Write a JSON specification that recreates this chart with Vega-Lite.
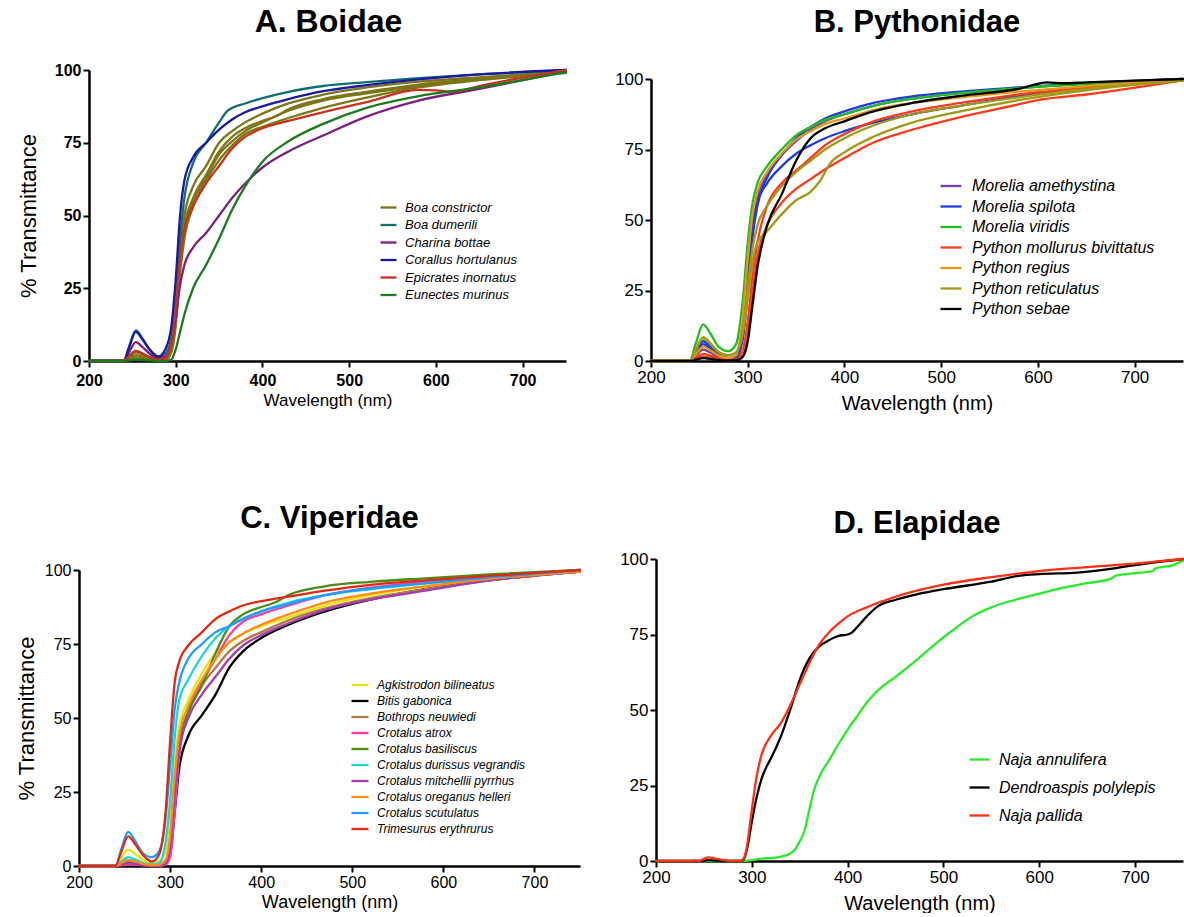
{
  "$schema": "https://vega.github.io/schema/vega-lite/v6.json",
  "padding": {"left": 15, "top": 6, "right": 0, "bottom": 0},
  "background": "white",
  "config": {
    "font": "Liberation Sans",
    "view": {"stroke": null},
    "axis": {"domainColor": "#000", "domainWidth": 2.5, "tickColor": "#000", "tickWidth": 2, "tickSize": 6, "labelColor": "#000", "titleColor": "#000", "grid": false, "titleFontWeight": "normal", "labelFlush": false, "labelOverlap": false, "labelFont": "Liberation Sans", "titleFont": "Liberation Sans"},
    "title": {"fontSize": 31, "fontWeight": "bold", "font": "Liberation Sans", "anchor": "middle", "color": "#000"},
    "legend": {"title": null, "orient": "none", "symbolType": "stroke", "labelFontStyle": "italic", "labelColor": "#000", "padding": 0, "labelLimit": 400, "labelFont": "Liberation Sans"},
    "line": {"interpolate": "monotone", "strokeWidth": 2.3, "strokeCap": "round", "clip": true}
  },
  "datasets": {
    "names": [
      {"i": "a1", "s": "Boa constrictor"}, {"i": "a2", "s": "Boa constrictor"}, {"i": "a3", "s": "Boa constrictor"}, {"i": "a4", "s": "Boa constrictor"},
      {"i": "a5", "s": "Boa dumerili"}, {"i": "a6", "s": "Charina bottae"}, {"i": "a7", "s": "Corallus hortulanus"}, {"i": "a8", "s": "Epicrates inornatus"}, {"i": "a9", "s": "Eunectes murinus"},
      {"i": "b1", "s": "Morelia amethystina"}, {"i": "b2", "s": "Morelia spilota"}, {"i": "b3", "s": "Morelia spilota"}, {"i": "b4", "s": "Morelia viridis"},
      {"i": "b5", "s": "Python mollurus bivittatus"}, {"i": "b6", "s": "Python mollurus bivittatus"}, {"i": "b7", "s": "Python regius"},
      {"i": "b8", "s": "Python reticulatus"}, {"i": "b9", "s": "Python reticulatus"}, {"i": "b10", "s": "Python sebae"},
      {"i": "c1", "s": "Agkistrodon bilineatus"}, {"i": "c2", "s": "Bitis gabonica"}, {"i": "c3", "s": "Bothrops neuwiedi"}, {"i": "c4", "s": "Crotalus atrox"},
      {"i": "c5", "s": "Crotalus basiliscus"}, {"i": "c6", "s": "Crotalus durissus vegrandis"}, {"i": "c7", "s": "Crotalus mitchellii pyrrhus"},
      {"i": "c8", "s": "Crotalus oreganus helleri"}, {"i": "c9", "s": "Crotalus scutulatus"}, {"i": "c10", "s": "Trimesurus erythrurus"},
      {"i": "d1", "s": "Naja annulifera"}, {"i": "d2", "s": "Dendroaspis polylepis"}, {"i": "d3", "s": "Naja pallida"}
    ],
    "A": [
      {"i":"a1","w":200,"t":0},{"i":"a1","w":240,"t":0},{"i":"a1","w":246,"t":1.35},{"i":"a1","w":254,"t":3},{"i":"a1","w":262,"t":2.16},{"i":"a1","w":270,"t":1.14},{"i":"a1","w":280,"t":0.4},{"i":"a1","w":288,"t":1},{"i":"a1","w":295,"t":5},{"i":"a1","w":300,"t":20},{"i":"a1","w":305,"t":38},{"i":"a1","w":310,"t":50},{"i":"a1","w":320,"t":60},{"i":"a1","w":335,"t":67},{"i":"a1","w":350,"t":75},{"i":"a1","w":365,"t":79},{"i":"a1","w":380,"t":82},{"i":"a1","w":400,"t":85},{"i":"a1","w":430,"t":88.5},{"i":"a1","w":470,"t":91.5},{"i":"a1","w":520,"t":94},{"i":"a1","w":580,"t":96},{"i":"a1","w":650,"t":97.5},{"i":"a1","w":750,"t":99.5},
      {"i":"a2","w":200,"t":0},{"i":"a2","w":240,"t":0},{"i":"a2","w":246,"t":0.9},{"i":"a2","w":254,"t":2},{"i":"a2","w":262,"t":1.44},{"i":"a2","w":270,"t":0.76},{"i":"a2","w":280,"t":0.3},{"i":"a2","w":288,"t":0.5},{"i":"a2","w":295,"t":4},{"i":"a2","w":300,"t":16},{"i":"a2","w":305,"t":33},{"i":"a2","w":310,"t":46},{"i":"a2","w":320,"t":56},{"i":"a2","w":335,"t":64},{"i":"a2","w":350,"t":72},{"i":"a2","w":365,"t":77},{"i":"a2","w":380,"t":80},{"i":"a2","w":400,"t":82.5},{"i":"a2","w":415,"t":84},{"i":"a2","w":430,"t":86.5},{"i":"a2","w":470,"t":90},{"i":"a2","w":520,"t":92.5},{"i":"a2","w":580,"t":95},{"i":"a2","w":650,"t":97},{"i":"a2","w":750,"t":99},
      {"i":"a3","w":200,"t":0},{"i":"a3","w":240,"t":0},{"i":"a3","w":246,"t":0.54},{"i":"a3","w":254,"t":1.2},{"i":"a3","w":262,"t":0.86},{"i":"a3","w":270,"t":0.46},{"i":"a3","w":280,"t":0.2},{"i":"a3","w":288,"t":0.3},{"i":"a3","w":295,"t":3},{"i":"a3","w":300,"t":12},{"i":"a3","w":305,"t":30},{"i":"a3","w":310,"t":42},{"i":"a3","w":320,"t":53},{"i":"a3","w":335,"t":62},{"i":"a3","w":350,"t":69},{"i":"a3","w":365,"t":74},{"i":"a3","w":380,"t":78},{"i":"a3","w":400,"t":80.5},{"i":"a3","w":430,"t":83.5},{"i":"a3","w":470,"t":87},{"i":"a3","w":520,"t":90.5},{"i":"a3","w":580,"t":94},{"i":"a3","w":650,"t":96.5},{"i":"a3","w":750,"t":99},
      {"i":"a4","w":200,"t":0},{"i":"a4","w":240,"t":0},{"i":"a4","w":246,"t":1.58},{"i":"a4","w":254,"t":3.5},{"i":"a4","w":262,"t":2.52},{"i":"a4","w":270,"t":1.33},{"i":"a4","w":280,"t":0.5},{"i":"a4","w":288,"t":0.8},{"i":"a4","w":295,"t":4},{"i":"a4","w":300,"t":14},{"i":"a4","w":305,"t":32},{"i":"a4","w":310,"t":44},{"i":"a4","w":320,"t":55},{"i":"a4","w":335,"t":63},{"i":"a4","w":350,"t":71},{"i":"a4","w":365,"t":75.5},{"i":"a4","w":380,"t":79},{"i":"a4","w":400,"t":82},{"i":"a4","w":430,"t":86},{"i":"a4","w":470,"t":89.5},{"i":"a4","w":520,"t":92},{"i":"a4","w":580,"t":94.5},{"i":"a4","w":650,"t":97},{"i":"a4","w":750,"t":99.2},
      {"i":"a5","w":200,"t":0},{"i":"a5","w":240,"t":0},{"i":"a5","w":246,"t":4.7},{"i":"a5","w":254,"t":10.5},{"i":"a5","w":262,"t":7.6},{"i":"a5","w":270,"t":4},{"i":"a5","w":280,"t":1.5},{"i":"a5","w":288,"t":2.5},{"i":"a5","w":295,"t":8},{"i":"a5","w":300,"t":22},{"i":"a5","w":305,"t":42},{"i":"a5","w":310,"t":56},{"i":"a5","w":320,"t":68},{"i":"a5","w":335,"t":75},{"i":"a5","w":350,"t":82},{"i":"a5","w":360,"t":86},{"i":"a5","w":380,"t":88.5},{"i":"a5","w":400,"t":90.3},{"i":"a5","w":430,"t":92.5},{"i":"a5","w":470,"t":94.5},{"i":"a5","w":520,"t":95.8},{"i":"a5","w":580,"t":97.2},{"i":"a5","w":650,"t":98.5},{"i":"a5","w":750,"t":100},
      {"i":"a6","w":200,"t":0},{"i":"a6","w":240,"t":0},{"i":"a6","w":246,"t":2.9},{"i":"a6","w":254,"t":6.5},{"i":"a6","w":262,"t":4.7},{"i":"a6","w":270,"t":2.5},{"i":"a6","w":280,"t":1},{"i":"a6","w":288,"t":1.5},{"i":"a6","w":295,"t":6},{"i":"a6","w":300,"t":15},{"i":"a6","w":305,"t":26},{"i":"a6","w":310,"t":33},{"i":"a6","w":320,"t":39},{"i":"a6","w":335,"t":44},{"i":"a6","w":350,"t":50},{"i":"a6","w":365,"t":56},{"i":"a6","w":380,"t":61},{"i":"a6","w":400,"t":66.5},{"i":"a6","w":430,"t":72},{"i":"a6","w":470,"t":77.5},{"i":"a6","w":520,"t":84},{"i":"a6","w":580,"t":89.5},{"i":"a6","w":650,"t":93.5},{"i":"a6","w":750,"t":99.5},
      {"i":"a7","w":200,"t":0},{"i":"a7","w":240,"t":0},{"i":"a7","w":246,"t":4.5},{"i":"a7","w":254,"t":10},{"i":"a7","w":262,"t":7.2},{"i":"a7","w":270,"t":3.8},{"i":"a7","w":280,"t":1.5},{"i":"a7","w":288,"t":4},{"i":"a7","w":295,"t":12},{"i":"a7","w":300,"t":28},{"i":"a7","w":305,"t":50},{"i":"a7","w":310,"t":62},{"i":"a7","w":320,"t":70},{"i":"a7","w":335,"t":75},{"i":"a7","w":350,"t":79.5},{"i":"a7","w":365,"t":83},{"i":"a7","w":380,"t":85.5},{"i":"a7","w":400,"t":87.5},{"i":"a7","w":430,"t":90},{"i":"a7","w":470,"t":92.7},{"i":"a7","w":520,"t":94.8},{"i":"a7","w":580,"t":96.8},{"i":"a7","w":650,"t":98.5},{"i":"a7","w":750,"t":100},
      {"i":"a8","w":200,"t":0},{"i":"a8","w":240,"t":0},{"i":"a8","w":246,"t":1.6},{"i":"a8","w":254,"t":3.5},{"i":"a8","w":262,"t":2.5},{"i":"a8","w":270,"t":1.3},{"i":"a8","w":280,"t":0.5},{"i":"a8","w":288,"t":1},{"i":"a8","w":295,"t":6},{"i":"a8","w":300,"t":18},{"i":"a8","w":305,"t":35},{"i":"a8","w":310,"t":45},{"i":"a8","w":320,"t":53},{"i":"a8","w":335,"t":61},{"i":"a8","w":350,"t":67},{"i":"a8","w":365,"t":73},{"i":"a8","w":380,"t":77},{"i":"a8","w":400,"t":80},{"i":"a8","w":430,"t":82.5},{"i":"a8","w":470,"t":85.5},{"i":"a8","w":520,"t":89},{"i":"a8","w":580,"t":93.2},{"i":"a8","w":600,"t":93},{"i":"a8","w":620,"t":92.5},{"i":"a8","w":650,"t":94.5},{"i":"a8","w":750,"t":100},
      {"i":"a9","w":200,"t":0},{"i":"a9","w":240,"t":0},{"i":"a9","w":246,"t":0.2},{"i":"a9","w":254,"t":0.5},{"i":"a9","w":262,"t":0.36},{"i":"a9","w":270,"t":0.19},{"i":"a9","w":280,"t":0},{"i":"a9","w":288,"t":0},{"i":"a9","w":295,"t":0.5},{"i":"a9","w":300,"t":4},{"i":"a9","w":305,"t":10},{"i":"a9","w":310,"t":16},{"i":"a9","w":320,"t":25},{"i":"a9","w":335,"t":33},{"i":"a9","w":350,"t":42},{"i":"a9","w":365,"t":52},{"i":"a9","w":380,"t":60},{"i":"a9","w":400,"t":68.5},{"i":"a9","w":430,"t":75.5},{"i":"a9","w":470,"t":81.5},{"i":"a9","w":520,"t":87},{"i":"a9","w":580,"t":91},{"i":"a9","w":650,"t":94},{"i":"a9","w":750,"t":99.3}
    ],
    "B": [
      {"i":"b1","w":200,"t":0},{"i":"b1","w":240,"t":0},{"i":"b1","w":246,"t":1.8},{"i":"b1","w":254,"t":4},{"i":"b1","w":262,"t":2.9},{"i":"b1","w":270,"t":1.5},{"i":"b1","w":280,"t":0.5},{"i":"b1","w":288,"t":1},{"i":"b1","w":295,"t":10},{"i":"b1","w":300,"t":30},{"i":"b1","w":305,"t":48},{"i":"b1","w":310,"t":58},{"i":"b1","w":320,"t":66},{"i":"b1","w":335,"t":73},{"i":"b1","w":350,"t":78},{"i":"b1","w":365,"t":82},{"i":"b1","w":380,"t":85},{"i":"b1","w":400,"t":87.5},{"i":"b1","w":430,"t":90.5},{"i":"b1","w":470,"t":93},{"i":"b1","w":520,"t":95},{"i":"b1","w":580,"t":96.8},{"i":"b1","w":650,"t":98.3},{"i":"b1","w":750,"t":100},
      {"i":"b2","w":200,"t":0},{"i":"b2","w":240,"t":0},{"i":"b2","w":246,"t":3.2},{"i":"b2","w":254,"t":7},{"i":"b2","w":262,"t":5},{"i":"b2","w":270,"t":2.7},{"i":"b2","w":280,"t":1},{"i":"b2","w":288,"t":1.5},{"i":"b2","w":295,"t":10},{"i":"b2","w":300,"t":28},{"i":"b2","w":305,"t":46},{"i":"b2","w":310,"t":56},{"i":"b2","w":320,"t":63},{"i":"b2","w":335,"t":69},{"i":"b2","w":350,"t":73.5},{"i":"b2","w":365,"t":76.5},{"i":"b2","w":380,"t":79},{"i":"b2","w":400,"t":81.5},{"i":"b2","w":430,"t":84.5},{"i":"b2","w":470,"t":87.5},{"i":"b2","w":520,"t":90.5},{"i":"b2","w":580,"t":94},{"i":"b2","w":650,"t":96.5},{"i":"b2","w":750,"t":99.5},
      {"i":"b3","w":200,"t":0},{"i":"b3","w":240,"t":0},{"i":"b3","w":246,"t":2.7},{"i":"b3","w":254,"t":6},{"i":"b3","w":262,"t":4.3},{"i":"b3","w":270,"t":2.3},{"i":"b3","w":280,"t":1},{"i":"b3","w":288,"t":1.5},{"i":"b3","w":295,"t":8},{"i":"b3","w":300,"t":24},{"i":"b3","w":305,"t":44},{"i":"b3","w":310,"t":55},{"i":"b3","w":320,"t":65},{"i":"b3","w":335,"t":73},{"i":"b3","w":350,"t":79},{"i":"b3","w":365,"t":83},{"i":"b3","w":380,"t":86},{"i":"b3","w":400,"t":88.5},{"i":"b3","w":430,"t":91.5},{"i":"b3","w":470,"t":93.8},{"i":"b3","w":520,"t":95.5},{"i":"b3","w":580,"t":97},{"i":"b3","w":650,"t":98.5},{"i":"b3","w":750,"t":100},
      {"i":"b4","w":200,"t":0},{"i":"b4","w":240,"t":0},{"i":"b4","w":246,"t":5.9},{"i":"b4","w":254,"t":13},{"i":"b4","w":262,"t":9.4},{"i":"b4","w":270,"t":5},{"i":"b4","w":280,"t":3.5},{"i":"b4","w":288,"t":6},{"i":"b4","w":295,"t":22},{"i":"b4","w":300,"t":42},{"i":"b4","w":305,"t":56},{"i":"b4","w":310,"t":63},{"i":"b4","w":320,"t":69},{"i":"b4","w":335,"t":75},{"i":"b4","w":350,"t":80},{"i":"b4","w":365,"t":83},{"i":"b4","w":380,"t":85.5},{"i":"b4","w":400,"t":87.5},{"i":"b4","w":430,"t":90.5},{"i":"b4","w":470,"t":93},{"i":"b4","w":520,"t":95},{"i":"b4","w":580,"t":96.8},{"i":"b4","w":650,"t":98.3},{"i":"b4","w":750,"t":100},
      {"i":"b5","w":200,"t":0},{"i":"b5","w":240,"t":0},{"i":"b5","w":246,"t":1.1},{"i":"b5","w":254,"t":2.5},{"i":"b5","w":262,"t":1.8},{"i":"b5","w":270,"t":0.95},{"i":"b5","w":280,"t":0.3},{"i":"b5","w":288,"t":0.3},{"i":"b5","w":295,"t":2},{"i":"b5","w":300,"t":9},{"i":"b5","w":305,"t":24},{"i":"b5","w":310,"t":37},{"i":"b5","w":320,"t":48},{"i":"b5","w":335,"t":56},{"i":"b5","w":350,"t":61},{"i":"b5","w":365,"t":64.5},{"i":"b5","w":380,"t":68},{"i":"b5","w":400,"t":72},{"i":"b5","w":430,"t":77.5},{"i":"b5","w":470,"t":82},{"i":"b5","w":520,"t":86.5},{"i":"b5","w":580,"t":91},{"i":"b5","w":600,"t":92.5},{"i":"b5","w":650,"t":94.5},{"i":"b5","w":750,"t":99.5},
      {"i":"b6","w":200,"t":0},{"i":"b6","w":240,"t":0},{"i":"b6","w":246,"t":0.7},{"i":"b6","w":254,"t":1.5},{"i":"b6","w":262,"t":1.1},{"i":"b6","w":270,"t":0.6},{"i":"b6","w":280,"t":0.3},{"i":"b6","w":288,"t":0.5},{"i":"b6","w":295,"t":4},{"i":"b6","w":300,"t":14},{"i":"b6","w":305,"t":30},{"i":"b6","w":310,"t":42},{"i":"b6","w":320,"t":55},{"i":"b6","w":335,"t":63},{"i":"b6","w":350,"t":67.5},{"i":"b6","w":365,"t":72},{"i":"b6","w":380,"t":76.5},{"i":"b6","w":400,"t":80.5},{"i":"b6","w":430,"t":85},{"i":"b6","w":470,"t":88.5},{"i":"b6","w":520,"t":91.5},{"i":"b6","w":580,"t":94.5},{"i":"b6","w":650,"t":97},{"i":"b6","w":750,"t":99.8},
      {"i":"b7","w":200,"t":0},{"i":"b7","w":240,"t":0},{"i":"b7","w":246,"t":2.25},{"i":"b7","w":254,"t":5},{"i":"b7","w":262,"t":3.6},{"i":"b7","w":270,"t":1.9},{"i":"b7","w":280,"t":1},{"i":"b7","w":288,"t":2},{"i":"b7","w":295,"t":16},{"i":"b7","w":300,"t":36},{"i":"b7","w":305,"t":52},{"i":"b7","w":310,"t":60},{"i":"b7","w":320,"t":67},{"i":"b7","w":335,"t":73.5},{"i":"b7","w":350,"t":78.5},{"i":"b7","w":365,"t":81.5},{"i":"b7","w":380,"t":84},{"i":"b7","w":400,"t":86},{"i":"b7","w":430,"t":89},{"i":"b7","w":470,"t":91.5},{"i":"b7","w":520,"t":93.5},{"i":"b7","w":580,"t":95.5},{"i":"b7","w":650,"t":97.5},{"i":"b7","w":750,"t":99.5},
      {"i":"b8","w":200,"t":0},{"i":"b8","w":240,"t":0},{"i":"b8","w":246,"t":3.8},{"i":"b8","w":254,"t":8.5},{"i":"b8","w":262,"t":6.1},{"i":"b8","w":270,"t":3.2},{"i":"b8","w":280,"t":2},{"i":"b8","w":288,"t":3},{"i":"b8","w":295,"t":10},{"i":"b8","w":300,"t":22},{"i":"b8","w":305,"t":35},{"i":"b8","w":310,"t":42},{"i":"b8","w":320,"t":46},{"i":"b8","w":335,"t":52},{"i":"b8","w":350,"t":57},{"i":"b8","w":365,"t":60},{"i":"b8","w":375,"t":64},{"i":"b8","w":385,"t":70},{"i":"b8","w":400,"t":74},{"i":"b8","w":430,"t":79.5},{"i":"b8","w":470,"t":84.5},{"i":"b8","w":520,"t":88.5},{"i":"b8","w":580,"t":92.5},{"i":"b8","w":650,"t":96},{"i":"b8","w":750,"t":99.5},
      {"i":"b9","w":200,"t":0},{"i":"b9","w":240,"t":0},{"i":"b9","w":246,"t":3.6},{"i":"b9","w":254,"t":8},{"i":"b9","w":262,"t":5.8},{"i":"b9","w":270,"t":3},{"i":"b9","w":280,"t":2},{"i":"b9","w":288,"t":3},{"i":"b9","w":295,"t":12},{"i":"b9","w":300,"t":26},{"i":"b9","w":305,"t":40},{"i":"b9","w":310,"t":48},{"i":"b9","w":320,"t":55},{"i":"b9","w":335,"t":62},{"i":"b9","w":350,"t":67},{"i":"b9","w":365,"t":71},{"i":"b9","w":380,"t":75},{"i":"b9","w":400,"t":79},{"i":"b9","w":430,"t":83.5},{"i":"b9","w":470,"t":87.5},{"i":"b9","w":520,"t":90.5},{"i":"b9","w":580,"t":93.5},{"i":"b9","w":650,"t":96.5},{"i":"b9","w":750,"t":99.5},
      {"i":"b10","w":200,"t":0},{"i":"b10","w":240,"t":0},{"i":"b10","w":246,"t":0.45},{"i":"b10","w":254,"t":1},{"i":"b10","w":262,"t":0.7},{"i":"b10","w":270,"t":0.4},{"i":"b10","w":280,"t":0.2},{"i":"b10","w":288,"t":0.2},{"i":"b10","w":295,"t":1.5},{"i":"b10","w":300,"t":7},{"i":"b10","w":305,"t":20},{"i":"b10","w":310,"t":33},{"i":"b10","w":320,"t":48},{"i":"b10","w":335,"t":59},{"i":"b10","w":350,"t":71},{"i":"b10","w":365,"t":79},{"i":"b10","w":380,"t":82.5},{"i":"b10","w":400,"t":85},{"i":"b10","w":430,"t":88.5},{"i":"b10","w":470,"t":91.5},{"i":"b10","w":520,"t":94},{"i":"b10","w":580,"t":96.5},{"i":"b10","w":610,"t":98.8},{"i":"b10","w":625,"t":98.5},{"i":"b10","w":650,"t":98.8},{"i":"b10","w":750,"t":100}
    ],
    "C": [
      {"i":"c1","w":200,"t":0},{"i":"c1","w":240,"t":0},{"i":"c1","w":246,"t":2.5},{"i":"c1","w":254,"t":5.5},{"i":"c1","w":262,"t":4},{"i":"c1","w":270,"t":2.1},{"i":"c1","w":280,"t":1},{"i":"c1","w":288,"t":1.5},{"i":"c1","w":295,"t":5},{"i":"c1","w":300,"t":15},{"i":"c1","w":305,"t":35},{"i":"c1","w":310,"t":47},{"i":"c1","w":320,"t":56},{"i":"c1","w":335,"t":65},{"i":"c1","w":350,"t":72},{"i":"c1","w":365,"t":75.5},{"i":"c1","w":380,"t":78.5},{"i":"c1","w":400,"t":81},{"i":"c1","w":430,"t":84},{"i":"c1","w":470,"t":88},{"i":"c1","w":520,"t":91.5},{"i":"c1","w":580,"t":94.5},{"i":"c1","w":650,"t":97},{"i":"c1","w":750,"t":99.5},
      {"i":"c2","w":200,"t":0},{"i":"c2","w":240,"t":0},{"i":"c2","w":246,"t":0.14},{"i":"c2","w":254,"t":0.3},{"i":"c2","w":262,"t":0.2},{"i":"c2","w":270,"t":0.1},{"i":"c2","w":280,"t":0},{"i":"c2","w":288,"t":0},{"i":"c2","w":295,"t":0.5},{"i":"c2","w":300,"t":4},{"i":"c2","w":305,"t":18},{"i":"c2","w":310,"t":33},{"i":"c2","w":320,"t":44},{"i":"c2","w":335,"t":51},{"i":"c2","w":350,"t":58},{"i":"c2","w":365,"t":67},{"i":"c2","w":380,"t":72.5},{"i":"c2","w":400,"t":77},{"i":"c2","w":430,"t":81.5},{"i":"c2","w":470,"t":86},{"i":"c2","w":520,"t":90},{"i":"c2","w":580,"t":93.5},{"i":"c2","w":650,"t":96.5},{"i":"c2","w":750,"t":99.5},
      {"i":"c3","w":200,"t":0},{"i":"c3","w":240,"t":0},{"i":"c3","w":246,"t":0.9},{"i":"c3","w":254,"t":2},{"i":"c3","w":262,"t":1.44},{"i":"c3","w":270,"t":0.76},{"i":"c3","w":280,"t":0.3},{"i":"c3","w":288,"t":0.5},{"i":"c3","w":295,"t":2},{"i":"c3","w":300,"t":9},{"i":"c3","w":305,"t":28},{"i":"c3","w":310,"t":42},{"i":"c3","w":320,"t":52},{"i":"c3","w":335,"t":61},{"i":"c3","w":350,"t":67},{"i":"c3","w":365,"t":72.5},{"i":"c3","w":380,"t":76},{"i":"c3","w":400,"t":79},{"i":"c3","w":430,"t":83},{"i":"c3","w":470,"t":87},{"i":"c3","w":520,"t":90.5},{"i":"c3","w":580,"t":93.5},{"i":"c3","w":650,"t":96.5},{"i":"c3","w":750,"t":99.5},
      {"i":"c4","w":200,"t":0},{"i":"c4","w":240,"t":0},{"i":"c4","w":246,"t":0.2},{"i":"c4","w":254,"t":0.5},{"i":"c4","w":262,"t":0.36},{"i":"c4","w":270,"t":0.2},{"i":"c4","w":280,"t":0},{"i":"c4","w":288,"t":0},{"i":"c4","w":295,"t":0.5},{"i":"c4","w":300,"t":3},{"i":"c4","w":305,"t":18},{"i":"c4","w":310,"t":37},{"i":"c4","w":320,"t":52},{"i":"c4","w":335,"t":62},{"i":"c4","w":350,"t":70},{"i":"c4","w":365,"t":78},{"i":"c4","w":380,"t":82.5},{"i":"c4","w":400,"t":85},{"i":"c4","w":430,"t":88},{"i":"c4","w":470,"t":91.5},{"i":"c4","w":520,"t":94},{"i":"c4","w":580,"t":96},{"i":"c4","w":650,"t":97.5},{"i":"c4","w":750,"t":100},
      {"i":"c5","w":200,"t":0},{"i":"c5","w":240,"t":0},{"i":"c5","w":246,"t":0.7},{"i":"c5","w":254,"t":1.5},{"i":"c5","w":262,"t":1.1},{"i":"c5","w":270,"t":0.6},{"i":"c5","w":280,"t":0.2},{"i":"c5","w":288,"t":0.3},{"i":"c5","w":295,"t":1.5},{"i":"c5","w":300,"t":7},{"i":"c5","w":305,"t":28},{"i":"c5","w":310,"t":42},{"i":"c5","w":320,"t":52},{"i":"c5","w":335,"t":61},{"i":"c5","w":350,"t":72},{"i":"c5","w":365,"t":81},{"i":"c5","w":380,"t":85},{"i":"c5","w":400,"t":87.5},{"i":"c5","w":415,"t":89},{"i":"c5","w":430,"t":91.5},{"i":"c5","w":470,"t":94.5},{"i":"c5","w":520,"t":96},{"i":"c5","w":580,"t":97.2},{"i":"c5","w":650,"t":98.5},{"i":"c5","w":750,"t":100},
      {"i":"c6","w":200,"t":0},{"i":"c6","w":240,"t":0},{"i":"c6","w":246,"t":1.35},{"i":"c6","w":254,"t":3},{"i":"c6","w":262,"t":2.2},{"i":"c6","w":270,"t":1.1},{"i":"c6","w":280,"t":0.5},{"i":"c6","w":288,"t":1},{"i":"c6","w":295,"t":8},{"i":"c6","w":300,"t":22},{"i":"c6","w":305,"t":43},{"i":"c6","w":310,"t":56},{"i":"c6","w":320,"t":63},{"i":"c6","w":335,"t":71},{"i":"c6","w":350,"t":77},{"i":"c6","w":365,"t":81},{"i":"c6","w":380,"t":83.5},{"i":"c6","w":400,"t":86},{"i":"c6","w":430,"t":89},{"i":"c6","w":470,"t":91.5},{"i":"c6","w":520,"t":93.5},{"i":"c6","w":580,"t":95.5},{"i":"c6","w":650,"t":97.5},{"i":"c6","w":750,"t":99.5},
      {"i":"c7","w":200,"t":0},{"i":"c7","w":240,"t":0},{"i":"c7","w":246,"t":0.45},{"i":"c7","w":254,"t":1},{"i":"c7","w":262,"t":0.7},{"i":"c7","w":270,"t":0.4},{"i":"c7","w":280,"t":0.2},{"i":"c7","w":288,"t":0.2},{"i":"c7","w":295,"t":1},{"i":"c7","w":300,"t":6},{"i":"c7","w":305,"t":24},{"i":"c7","w":310,"t":39},{"i":"c7","w":320,"t":50},{"i":"c7","w":335,"t":58},{"i":"c7","w":350,"t":64},{"i":"c7","w":365,"t":70},{"i":"c7","w":380,"t":74.5},{"i":"c7","w":400,"t":78},{"i":"c7","w":430,"t":82},{"i":"c7","w":470,"t":86.5},{"i":"c7","w":520,"t":90},{"i":"c7","w":580,"t":93},{"i":"c7","w":650,"t":96.5},{"i":"c7","w":750,"t":99.5},
      {"i":"c8","w":200,"t":0},{"i":"c8","w":240,"t":0},{"i":"c8","w":246,"t":0.9},{"i":"c8","w":254,"t":2},{"i":"c8","w":262,"t":1.44},{"i":"c8","w":270,"t":0.76},{"i":"c8","w":280,"t":0.3},{"i":"c8","w":288,"t":0.5},{"i":"c8","w":295,"t":2},{"i":"c8","w":300,"t":10},{"i":"c8","w":305,"t":30},{"i":"c8","w":310,"t":44},{"i":"c8","w":320,"t":54},{"i":"c8","w":335,"t":63},{"i":"c8","w":350,"t":70},{"i":"c8","w":365,"t":75.5},{"i":"c8","w":380,"t":78.5},{"i":"c8","w":400,"t":81.5},{"i":"c8","w":430,"t":85},{"i":"c8","w":470,"t":89},{"i":"c8","w":520,"t":92},{"i":"c8","w":580,"t":94.5},{"i":"c8","w":650,"t":97},{"i":"c8","w":750,"t":99.5},
      {"i":"c9","w":200,"t":0},{"i":"c9","w":240,"t":0},{"i":"c9","w":246,"t":5.2},{"i":"c9","w":254,"t":11.5},{"i":"c9","w":262,"t":8.3},{"i":"c9","w":270,"t":4.4},{"i":"c9","w":280,"t":3},{"i":"c9","w":288,"t":5},{"i":"c9","w":295,"t":16},{"i":"c9","w":300,"t":34},{"i":"c9","w":305,"t":53},{"i":"c9","w":310,"t":62},{"i":"c9","w":320,"t":70},{"i":"c9","w":335,"t":75},{"i":"c9","w":350,"t":79},{"i":"c9","w":365,"t":81},{"i":"c9","w":380,"t":83.5},{"i":"c9","w":400,"t":86},{"i":"c9","w":430,"t":88.5},{"i":"c9","w":470,"t":91.5},{"i":"c9","w":520,"t":93.8},{"i":"c9","w":580,"t":95.5},{"i":"c9","w":650,"t":97.5},{"i":"c9","w":750,"t":100},
      {"i":"c10","w":200,"t":0},{"i":"c10","w":240,"t":0},{"i":"c10","w":246,"t":4.5},{"i":"c10","w":254,"t":10},{"i":"c10","w":262,"t":7.2},{"i":"c10","w":270,"t":3.8},{"i":"c10","w":280,"t":1.5},{"i":"c10","w":288,"t":4},{"i":"c10","w":295,"t":18},{"i":"c10","w":300,"t":42},{"i":"c10","w":305,"t":62},{"i":"c10","w":310,"t":69},{"i":"c10","w":320,"t":74.5},{"i":"c10","w":335,"t":79},{"i":"c10","w":350,"t":83.5},{"i":"c10","w":365,"t":86},{"i":"c10","w":380,"t":88},{"i":"c10","w":400,"t":89.5},{"i":"c10","w":430,"t":91},{"i":"c10","w":470,"t":93},{"i":"c10","w":520,"t":95},{"i":"c10","w":580,"t":96.5},{"i":"c10","w":650,"t":98},{"i":"c10","w":750,"t":100}
    ],
    "D": [
      {"i":"d1","w":200,"t":0},{"i":"d1","w":290,"t":0},{"i":"d1","w":300,"t":0.3},{"i":"d1","w":310,"t":0.8},{"i":"d1","w":320,"t":1},{"i":"d1","w":330,"t":1.4},{"i":"d1","w":340,"t":2.5},{"i":"d1","w":345,"t":3.8},{"i":"d1","w":350,"t":6.5},{"i":"d1","w":355,"t":10},{"i":"d1","w":360,"t":17},{"i":"d1","w":365,"t":23.5},{"i":"d1","w":372,"t":29},{"i":"d1","w":380,"t":33},{"i":"d1","w":390,"t":38.5},{"i":"d1","w":400,"t":43.5},{"i":"d1","w":410,"t":48},{"i":"d1","w":420,"t":52.5},{"i":"d1","w":430,"t":56},{"i":"d1","w":450,"t":61},{"i":"d1","w":470,"t":66},{"i":"d1","w":490,"t":71.5},{"i":"d1","w":510,"t":76.5},{"i":"d1","w":530,"t":81},{"i":"d1","w":550,"t":84},{"i":"d1","w":575,"t":86.5},{"i":"d1","w":600,"t":88.5},{"i":"d1","w":625,"t":90.5},{"i":"d1","w":650,"t":92},{"i":"d1","w":675,"t":93.5},{"i":"d1","w":680,"t":94.5},{"i":"d1","w":700,"t":95.3},{"i":"d1","w":718,"t":96},{"i":"d1","w":722,"t":97},{"i":"d1","w":740,"t":98},{"i":"d1","w":750,"t":99.5},
      {"i":"d2","w":200,"t":0},{"i":"d2","w":245,"t":0},{"i":"d2","w":255,"t":0.3},{"i":"d2","w":270,"t":0},{"i":"d2","w":288,"t":0},{"i":"d2","w":291,"t":0.3},{"i":"d2","w":295,"t":4},{"i":"d2","w":300,"t":13},{"i":"d2","w":305,"t":21},{"i":"d2","w":310,"t":27},{"i":"d2","w":315,"t":31},{"i":"d2","w":320,"t":34},{"i":"d2","w":330,"t":41},{"i":"d2","w":340,"t":50},{"i":"d2","w":350,"t":60},{"i":"d2","w":360,"t":67},{"i":"d2","w":370,"t":71},{"i":"d2","w":380,"t":73},{"i":"d2","w":390,"t":74.5},{"i":"d2","w":400,"t":75},{"i":"d2","w":405,"t":75.8},{"i":"d2","w":410,"t":77.5},{"i":"d2","w":420,"t":81},{"i":"d2","w":430,"t":84},{"i":"d2","w":450,"t":86.5},{"i":"d2","w":475,"t":88.5},{"i":"d2","w":500,"t":90},{"i":"d2","w":550,"t":92.5},{"i":"d2","w":580,"t":94.5},{"i":"d2","w":600,"t":95},{"i":"d2","w":640,"t":95.5},{"i":"d2","w":680,"t":97},{"i":"d2","w":700,"t":98},{"i":"d2","w":750,"t":100},
      {"i":"d3","w":200,"t":0},{"i":"d3","w":245,"t":0},{"i":"d3","w":250,"t":0.7},{"i":"d3","w":255,"t":1.2},{"i":"d3","w":262,"t":0.8},{"i":"d3","w":270,"t":0.3},{"i":"d3","w":280,"t":0},{"i":"d3","w":288,"t":0},{"i":"d3","w":292,"t":1},{"i":"d3","w":295,"t":5},{"i":"d3","w":300,"t":17},{"i":"d3","w":305,"t":28},{"i":"d3","w":310,"t":35},{"i":"d3","w":320,"t":41.5},{"i":"d3","w":330,"t":45.5},{"i":"d3","w":340,"t":51.5},{"i":"d3","w":350,"t":58.5},{"i":"d3","w":360,"t":65.5},{"i":"d3","w":370,"t":71.5},{"i":"d3","w":380,"t":75.5},{"i":"d3","w":390,"t":78.5},{"i":"d3","w":400,"t":81},{"i":"d3","w":420,"t":84},{"i":"d3","w":450,"t":87.5},{"i":"d3","w":500,"t":91.5},{"i":"d3","w":550,"t":94},{"i":"d3","w":600,"t":96},{"i":"d3","w":650,"t":97.3},{"i":"d3","w":700,"t":98.5},{"i":"d3","w":750,"t":100}
    ]
  },
  "columns": 2,
  "align": "each",
  "spacing": {"row": 90, "column": 29},
  "concat": [
    {
      "width": 487, "height": 291,
      "title": {"text": "A. Boidae", "offset": 23, "dx": 6, "fontSize": 32},
      "data": {"name": "A"},
      "transform": [{"lookup": "i", "from": {"data": {"name": "names"}, "key": "i", "fields": ["s"]}}],
      "mark": "line",
      "encoding": {
        "x": {"field": "w", "type": "quantitative", "scale": {"domain": [200, 750], "nice": false, "range": [10, 487]}, "axis": {"values": [200, 300, 400, 500, 600, 700], "title": "Wavelength (nm)", "labelFontSize": 16, "labelFontWeight": "bold", "labelPadding": 5, "titleFontSize": 17, "titlePadding": 4}},
        "y": {"field": "t", "type": "quantitative", "scale": {"domain": [0, 100], "nice": false}, "axis": {"values": [0, 25, 50, 75, 100], "offset": -10, "title": "% Transmittance", "labelFontSize": 16, "labelFontWeight": "bold", "labelPadding": 2, "titleFontSize": 22, "titlePadding": 14}},
        "color": {"field": "s", "type": "nominal", "scale": {"domain": ["Boa constrictor", "Boa dumerili", "Charina bottae", "Corallus hortulanus", "Epicrates inornatus", "Eunectes murinus"], "range": ["#7d7518", "#11706f", "#7a2180", "#1a1aa0", "#c8321e", "#1e7a1e"]}, "legend": {"legendX": 300, "legendY": 128, "symbolSize": 256, "symbolStrokeWidth": 3, "labelFontSize": 13, "rowPadding": 0.5, "labelOffset": 7}},
        "detail": {"field": "i"}
      }
    },
    {
      "width": 532, "height": 291,
      "title": {"text": "B. Pythonidae", "offset": 31},
      "data": {"name": "B"},
      "transform": [{"lookup": "i", "from": {"data": {"name": "names"}, "key": "i", "fields": ["s"]}}],
      "mark": "line",
      "encoding": {
        "x": {"field": "w", "type": "quantitative", "scale": {"domain": [200, 750], "nice": false}, "axis": {"values": [200, 300, 400, 500, 600, 700], "title": "Wavelength (nm)", "labelFontSize": 17, "labelPadding": 2, "titleFontSize": 20, "titlePadding": 8}},
        "y": {"field": "t", "type": "quantitative", "scale": {"domain": [0, 100], "nice": false, "range": [291, 9]}, "axis": {"values": [0, 25, 50, 75, 100], "title": null, "labelFontSize": 17, "labelPadding": 2}},
        "color": {"field": "s", "type": "nominal", "scale": {"domain": ["Morelia amethystina", "Morelia spilota", "Morelia viridis", "Python mollurus bivittatus", "Python regius", "Python reticulatus", "Python sebae"], "range": ["#7440a8", "#1e3cd8", "#22bb22", "#ff3a1a", "#e8980e", "#a09a18", "#000000"]}, "legend": {"legendX": 288, "legendY": 104, "symbolSize": 441, "symbolStrokeWidth": 3, "labelFontSize": 16, "rowPadding": 0.5, "labelOffset": 9}},
        "detail": {"field": "i"}
      }
    },
    {
      "width": 501, "height": 307,
      "title": {"text": "C. Viperidae", "offset": 24},
      "data": {"name": "C"},
      "transform": [{"lookup": "i", "from": {"data": {"name": "names"}, "key": "i", "fields": ["s"]}}],
      "mark": "line",
      "encoding": {
        "x": {"field": "w", "type": "quantitative", "scale": {"domain": [200, 750], "nice": false}, "axis": {"values": [200, 300, 400, 500, 600, 700], "title": "Wavelength (nm)", "labelFontSize": 16, "labelPadding": 2, "titleFontSize": 18, "titlePadding": 3}},
        "y": {"field": "t", "type": "quantitative", "scale": {"domain": [0, 100], "nice": false, "range": [307, 11]}, "axis": {"values": [0, 25, 50, 75, 100], "title": "% Transmittance", "labelFontSize": 16, "labelPadding": 2, "titleFontSize": 22, "titlePadding": 6}},
        "color": {"field": "s", "type": "nominal", "scale": {"domain": ["Agkistrodon bilineatus", "Bitis gabonica", "Bothrops neuwiedi", "Crotalus atrox", "Crotalus basiliscus", "Crotalus durissus vegrandis", "Crotalus mitchellii pyrrhus", "Crotalus oreganus helleri", "Crotalus scutulatus", "Trimesurus erythrurus"], "range": ["#e8e410", "#000000", "#b27a48", "#ff3c9c", "#4c8c14", "#1ed4d8", "#a43cb4", "#ff8c14", "#1e9cff", "#e02814"]}, "legend": {"legendX": 271, "legendY": 116, "symbolSize": 289, "symbolStrokeWidth": 3, "labelFontSize": 12, "rowPadding": -1, "labelOffset": 7}},
        "detail": {"field": "i"}
      }
    },
    {
      "width": 532, "height": 307,
      "title": {"text": "D. Elapidae", "offset": 10},
      "data": {"name": "D"},
      "transform": [{"lookup": "i", "from": {"data": {"name": "names"}, "key": "i", "fields": ["s"]}}],
      "mark": "line",
      "encoding": {
        "x": {"field": "w", "type": "quantitative", "scale": {"domain": [200, 750], "nice": false, "range": [5, 532]}, "axis": {"values": [200, 300, 400, 500, 600, 700], "offset": -5, "title": "Wavelength (nm)", "labelFontSize": 17, "labelPadding": 2, "titleFontSize": 20, "titlePadding": 8}},
        "y": {"field": "t", "type": "quantitative", "scale": {"domain": [0, 100], "nice": false, "range": [302, 0]}, "axis": {"values": [0, 25, 50, 75, 100], "offset": -5, "title": null, "labelFontSize": 17, "labelPadding": 2}},
        "color": {"field": "s", "type": "nominal", "scale": {"domain": ["Naja annulifera", "Dendroaspis polylepis", "Naja pallida"], "range": ["#2aea2a", "#000000", "#ff2e14"]}, "legend": {"legendX": 317, "legendY": 189, "symbolSize": 400, "symbolStrokeWidth": 3, "labelFontSize": 16, "rowPadding": 8, "labelOffset": 8}},
        "detail": {"field": "i"}
      }
    }
  ],
  "resolve": {"scale": {"color": "independent"}}
}
